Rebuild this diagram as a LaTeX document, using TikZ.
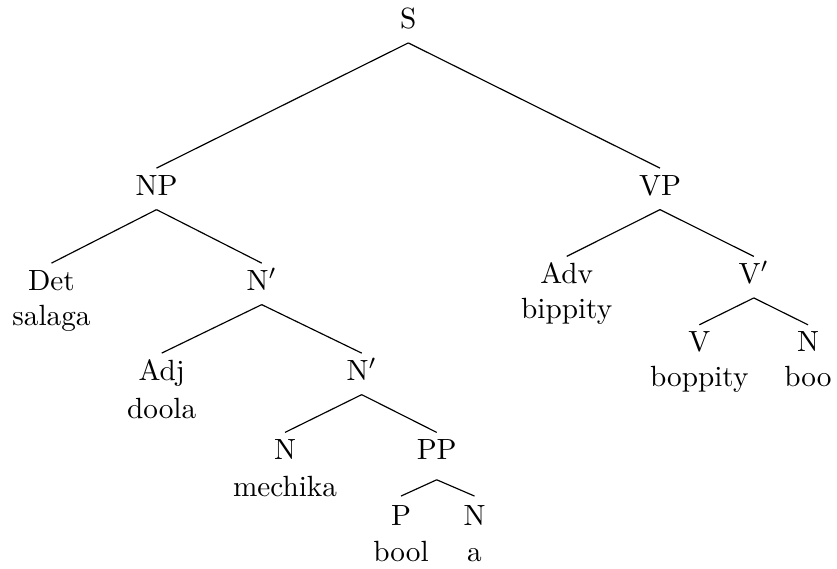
\documentclass[tikz,border=0pt]{standalone}
\begin{document}
\begin{tikzpicture}[x=0.342pt, y=-0.342pt,
  cat/.style={anchor=base, inner sep=0pt, text height=9pt, text depth=4.8pt},
  word/.style={anchor=base, inner sep=0pt},
  branch/.style={line width=0.4pt}]
\useasboundingbox (0,0) rectangle (837,568);

% category labels
\node[cat] (S)   at (408.3,28.3) {S};
\node[cat] (NP)  at (156.5,195)  {NP};
\node[cat] (VP)  at (660,195)    {VP};
\node[cat] (Det) at (51.5,290)   {Det};
\node[cat] (Nb1) at (261.7,290)  {N$'$};
\node[cat] (Adv) at (566.7,283.3){Adv};
\node[cat] (Vb)  at (753.8,283.3){V$'$};
\node[cat] (Adj) at (161.7,380)  {Adj};
\node[cat] (Nb2) at (361.7,380)  {N$'$};
\node[cat] (V)   at (699.3,351.7){V};
\node[cat] (Nv)  at (808,351.7)  {N};
\node[cat] (Nm)  at (285,459.3)  {N};
\node[cat, text depth=6.8pt] (PP) at (436.7,459.3) {PP};
\node[cat, text height=9.7pt] (P)  at (401,525) {P};
\node[cat, text height=9.7pt] (Na) at (474.5,525) {N};

% words under the leaves
\node[word] (w1) at (51.5,325)   {salaga};
\node[word] (w2) at (566.7,318.3){bippity};
\node[word] (w3) at (161.7,418.3){doola};
\node[word] (w4) at (699.3,386.7){boppity};
\node[word] (w5) at (808,386.7)  {boo};
\node[word] (w6) at (285,496.7)  {mechika};
\node[word] (w7) at (401,561.7)  {bool};
\node[word] (w8) at (474.5,561.7){a};

% branches
\draw[branch] (S.south) -- (NP.north);
\draw[branch] (S.south) -- (VP.north);
\draw[branch] (NP.south) -- (Det.north);
\draw[branch] (NP.south) -- (Nb1.north);
\draw[branch] (VP.south) -- (Adv.north);
\draw[branch] (VP.south) -- (Vb.north);
\draw[branch] (Nb1.south) -- (Adj.north);
\draw[branch] (Nb1.south) -- (Nb2.north);
\draw[branch] (Vb.south) -- (V.north);
\draw[branch] (Vb.south) -- (Nv.north);
\draw[branch] (Nb2.south) -- (Nm.north);
\draw[branch] (Nb2.south) -- (PP.north);
\draw[branch] (PP.south) -- (P.north);
\draw[branch] (PP.south) -- (Na.north);
\end{tikzpicture}
\end{document}
